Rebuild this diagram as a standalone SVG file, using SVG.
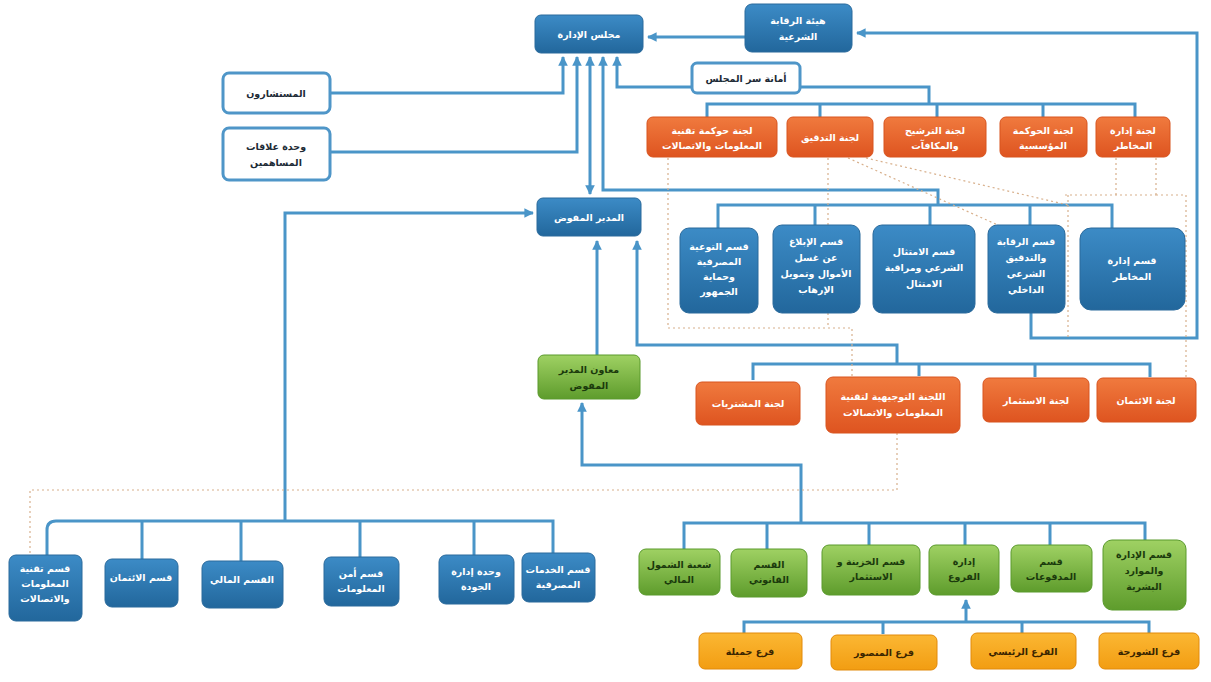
<svg xmlns="http://www.w3.org/2000/svg" width="1211" height="682" viewBox="0 0 1211 682">
<defs>
<linearGradient id="gBlue" x1="0" y1="0" x2="0" y2="1"><stop offset="0" stop-color="#3c8bc6"/><stop offset="1" stop-color="#22679c"/></linearGradient>
<linearGradient id="gOrange" x1="0" y1="0" x2="0" y2="1"><stop offset="0" stop-color="#f07a3e"/><stop offset="1" stop-color="#de5420"/></linearGradient>
<linearGradient id="gGreen" x1="0" y1="0" x2="0" y2="1"><stop offset="0" stop-color="#9fd163"/><stop offset="1" stop-color="#5e9c2c"/></linearGradient>
<linearGradient id="gYellow" x1="0" y1="0" x2="0" y2="1"><stop offset="0" stop-color="#fbb733"/><stop offset="1" stop-color="#f29d12"/></linearGradient>
<marker id="arr" viewBox="0 0 10 10" refX="9" refY="5" markerWidth="3.2" markerHeight="3.2" orient="auto-start-reverse"><path d="M0,0 L10,5 L0,10 z" fill="#4a95c8"/></marker>
<style>
.c{fill:none;stroke:#4a95c8;stroke-width:3;stroke-linejoin:miter}
.d{fill:none;stroke:#d8b08c;stroke-width:1.2;stroke-dasharray:2 3}
.b{fill:url(#gBlue);stroke:#2a6a9c;stroke-width:1}
.w{fill:#ffffff;stroke:#4f96c8;stroke-width:3}
.o{fill:url(#gOrange);stroke:#d8541f;stroke-width:1}
.g{fill:url(#gGreen);stroke:#5a9a2c;stroke-width:1}
.y{fill:url(#gYellow);stroke:#e28a0a;stroke-width:1}
text{font-family:"DejaVu Sans",sans-serif;font-size:9.5px;font-weight:bold;text-anchor:middle}
.tw{fill:#ffffff}
.tk{fill:#1d2b36}
.tg{fill:#1b3a0c}
.ty{fill:#3a2500}
</style>
</defs>
<rect width="1211" height="682" fill="#ffffff"/>

<g id="connectors">
<path class="c" d="M1031,313 V338 H1197 V33 H857" marker-end="url(#arr)"/>
<path class="c" d="M745,37 H648" marker-end="url(#arr)"/>
<path class="c" d="M330,93 H563 V57" marker-end="url(#arr)"/>
<path class="c" d="M330,152 H577 V57" marker-end="url(#arr)"/>
<path class="c" d="M590,194 V57" marker-start="url(#arr)" marker-end="url(#arr)"/>
<path class="c" d="M938,205 V190 H603 V57" marker-end="url(#arr)"/>
<path class="c" d="M929,104 V87 H617 V57" marker-end="url(#arr)"/>
<path class="c" d="M707,117 V104 H1135 V117 M820,104 V117 M937,104 V117 M1043,104 V117"/>
<path class="c" d="M718,228 V205 H1112 V228 M815,205 V225 M930,205 V225 M1030,205 V225"/>
<path class="c" d="M285,521 V213 H533" marker-end="url(#arr)"/>
<path class="c" d="M597,355 V241" marker-end="url(#arr)"/>
<path class="c" d="M897,364 V345 H637 V241" marker-end="url(#arr)"/>
<path class="c" d="M753,380 V364 H1150 V377 M919,364 V376 M1035,364 V377"/>
<path class="c" d="M47,555 V530 Q47,521 56,521 H553 V553 M142,521 V559 M241,521 V561 M360,521 V557 M474,521 V555"/>
<path class="c" d="M801,523 V465 H582 V403" marker-end="url(#arr)"/>
<path class="c" d="M684,549 V523 H1145 V540 M767,523 V549 M869,523 V545 M965,523 V545 M1050,523 V545"/>
<path class="c" d="M966,622 V600" marker-end="url(#arr)"/>
<path class="c" d="M744,633 V622 H1149 V633 M883,622 V634 M1022,622 V634"/>
</g>

<g id="dotted">
<path class="d" d="M668,158 V328 H852 V376"/>
<path class="d" d="M828,158 V328"/>
<path class="d" d="M848,158 L1000,226"/>
<path class="d" d="M866,158 L1068,205"/>
<path class="d" d="M1116,158 V195 M1156,158 V195 M1065,195 H1156 M1068,195 V338"/>
<path class="d" d="M1156,195 H1186 V377"/>
<path class="d" d="M897,433 V490 H30 V555"/>
</g>

<g id="n_board"><rect class="b" x="535" y="15" width="108" height="38" rx="6"/><text class="tw" x="589" y="38">مجلس الإدارة</text></g>
<g id="n_sharia"><rect class="b" x="745" y="4" width="107" height="48" rx="7"/><text class="tw" x="798" y="24">هيئة الرقابة</text><text class="tw" x="798" y="40">الشرعية</text></g>
<g id="n_secretary"><rect class="w" x="692" y="63" width="108" height="30" rx="5"/><text class="tk" x="746" y="82">أمانة سر المجلس</text></g>
<g id="n_advisors"><rect class="w" x="223" y="73" width="107" height="40" rx="6"/><text class="tk" x="276" y="97">المستشارون</text></g>
<g id="n_shareholders"><rect class="w" x="223" y="128" width="107" height="52" rx="6"/><text class="tk" x="276" y="150">وحدة علاقات</text><text class="tk" x="276" y="166">المساهمين</text></g>

<g id="n_c_itgov"><rect class="o" x="647" y="117" width="130" height="40" rx="6"/><text class="tw" x="712" y="134">لجنة حوكمة تقنية</text><text class="tw" x="712" y="149">المعلومات والاتصالات</text></g>
<g id="n_c_audit"><rect class="o" x="787" y="117" width="86" height="40" rx="6"/><text class="tw" x="830" y="141">لجنة التدقيق</text></g>
<g id="n_c_nom"><rect class="o" x="884" y="117" width="102" height="40" rx="6"/><text class="tw" x="935" y="134">لجنة الترشيح</text><text class="tw" x="935" y="149">والمكافآت</text></g>
<g id="n_c_gov"><rect class="o" x="1000" y="117" width="87" height="40" rx="6"/><text class="tw" x="1043" y="134">لجنة الحوكمة</text><text class="tw" x="1043" y="149">المؤسسية</text></g>
<g id="n_c_risk"><rect class="o" x="1096" y="117" width="74" height="40" rx="6"/><text class="tw" x="1133" y="134">لجنة إدارة</text><text class="tw" x="1133" y="149">المخاطر</text></g>

<g id="n_ceo"><rect class="b" x="537" y="198" width="104" height="38" rx="6"/><text class="tw" x="589" y="221">المدير المفوض</text></g>

<g id="n_s_aware"><rect class="b" x="680" y="228" width="78" height="85" rx="9"/><text class="tw" x="719" y="250">قسم التوعية</text><text class="tw" x="719" y="265">المصرفية</text><text class="tw" x="719" y="280">وحماية</text><text class="tw" x="719" y="295">الجمهور</text></g>
<g id="n_s_aml"><rect class="b" x="773" y="225" width="87" height="88" rx="9"/><text class="tw" x="816" y="245">قسم الإبلاغ</text><text class="tw" x="816" y="261">عن غسل</text><text class="tw" x="816" y="277">الأموال وتمويل</text><text class="tw" x="816" y="293">الإرهاب</text></g>
<g id="n_s_comp"><rect class="b" x="873" y="225" width="102" height="88" rx="9"/><text class="tw" x="924" y="255">قسم الامتثال</text><text class="tw" x="924" y="271">الشرعي ومراقبة</text><text class="tw" x="924" y="287">الامتثال</text></g>
<g id="n_s_shaudit"><rect class="b" x="988" y="225" width="77" height="88" rx="9"/><text class="tw" x="1026" y="245">قسم الرقابة</text><text class="tw" x="1026" y="261">والتدقيق</text><text class="tw" x="1026" y="277">الشرعي</text><text class="tw" x="1026" y="293">الداخلي</text></g>
<g id="n_s_risk"><rect class="b" x="1080" y="228" width="105" height="82" rx="11"/><text class="tw" x="1132" y="264">قسم إدارة</text><text class="tw" x="1132" y="280">المخاطر</text></g>

<g id="n_deputy"><rect class="g" x="538" y="355" width="102" height="44" rx="6"/><text class="tg" x="589" y="373">معاون المدير</text><text class="tg" x="589" y="389">المفوض</text></g>

<g id="n_c_purch"><rect class="o" x="696" y="382" width="104" height="43" rx="6"/><text class="tw" x="748" y="407">لجنة المشتريات</text></g>
<g id="n_c_itsteer"><rect class="o" x="826" y="377" width="134" height="56" rx="7"/><text class="tw" x="893" y="400">اللجنة التوجيهية لتقنية</text><text class="tw" x="893" y="416">المعلومات والاتصالات</text></g>
<g id="n_c_invest"><rect class="o" x="983" y="378" width="106" height="44" rx="6"/><text class="tw" x="1036" y="404">لجنة الاستثمار</text></g>
<g id="n_c_credit"><rect class="o" x="1097" y="378" width="99" height="44" rx="6"/><text class="tw" x="1146" y="404">لجنة الائتمان</text></g>

<g id="n_b_it"><rect class="b" x="9" y="555" width="73" height="66" rx="7"/><text class="tw" x="45" y="572">قسم تقنية</text><text class="tw" x="45" y="587">المعلومات</text><text class="tw" x="45" y="602">والاتصالات</text></g>
<g id="n_b_credit"><rect class="b" x="105" y="559" width="73" height="48" rx="7"/><text class="tw" x="141" y="581">قسم الائتمان</text></g>
<g id="n_b_fin"><rect class="b" x="202" y="561" width="81" height="47" rx="7"/><text class="tw" x="242" y="583">القسم المالي</text></g>
<g id="n_b_sec"><rect class="b" x="324" y="557" width="75" height="49" rx="7"/><text class="tw" x="361" y="577">قسم أمن</text><text class="tw" x="361" y="592">المعلومات</text></g>
<g id="n_b_quality"><rect class="b" x="439" y="555" width="75" height="49" rx="7"/><text class="tw" x="476" y="575">وحدة إدارة</text><text class="tw" x="476" y="590">الجودة</text></g>
<g id="n_b_banking"><rect class="b" x="522" y="553" width="73" height="49" rx="7"/><text class="tw" x="558" y="573">قسم الخدمات</text><text class="tw" x="558" y="588">المصرفية</text></g>

<g id="n_g_incl"><rect class="g" x="639" y="549" width="81" height="46" rx="7"/><text class="tg" x="679" y="568">شعبة الشمول</text><text class="tg" x="679" y="583">المالي</text></g>
<g id="n_g_legal"><rect class="g" x="731" y="549" width="76" height="48" rx="7"/><text class="tg" x="769" y="568">القسم</text><text class="tg" x="769" y="583">القانوني</text></g>
<g id="n_g_treas"><rect class="g" x="822" y="545" width="98" height="50" rx="7"/><text class="tg" x="871" y="565">قسم الخزينة و</text><text class="tg" x="871" y="580">الاستثمار</text></g>
<g id="n_g_branches"><rect class="g" x="929" y="545" width="70" height="50" rx="7"/><text class="tg" x="964" y="565">إدارة</text><text class="tg" x="964" y="580">الفروع</text></g>
<g id="n_g_pay"><rect class="g" x="1011" y="545" width="81" height="47" rx="7"/><text class="tg" x="1051" y="565">قسم</text><text class="tg" x="1051" y="580">المدفوعات</text></g>
<g id="n_g_hr"><rect class="g" x="1103" y="540" width="83" height="70" rx="9"/><text class="tg" x="1144" y="558">قسم الإدارة</text><text class="tg" x="1144" y="574">والموارد</text><text class="tg" x="1144" y="590">البشرية</text></g>

<g id="n_y_jamila"><rect class="y" x="699" y="633" width="103" height="36" rx="6"/><text class="ty" x="750" y="655">فرع جميلة</text></g>
<g id="n_y_mansour"><rect class="y" x="831" y="635" width="106" height="35" rx="6"/><text class="ty" x="884" y="656">فرع المنصور</text></g>
<g id="n_y_main"><rect class="y" x="971" y="633" width="105" height="36" rx="6"/><text class="ty" x="1023" y="655">الفرع الرئيسي</text></g>
<g id="n_y_shorja"><rect class="y" x="1099" y="633" width="100" height="36" rx="6"/><text class="ty" x="1149" y="655">فرع الشورجة</text></g>
</svg>
